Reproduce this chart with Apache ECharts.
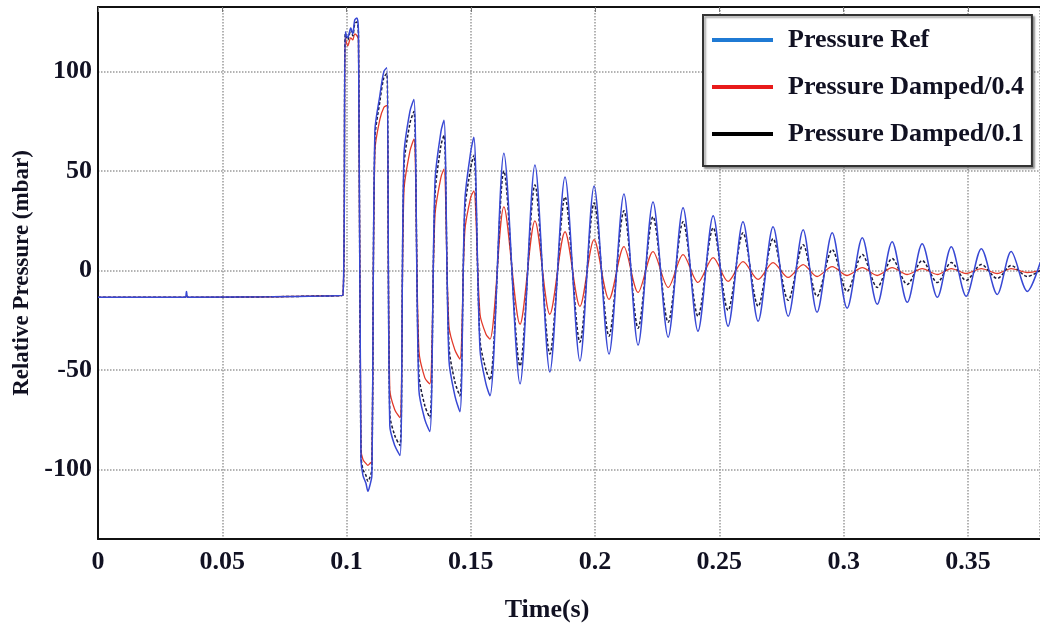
<!DOCTYPE html>
<html>
<head>
<meta charset="utf-8">
<script src="https://cdn.jsdelivr.net/npm/echarts@6/dist/echarts.min.js"></script>
<style>
html,body{margin:0;padding:0;background:#fff;}
#chart{width:1040px;height:628px;}
</style>
</head>
<body>
<div id="chart"></div>
<script>
// ---- data ----
const seriesNames = ['Pressure Ref', 'Pressure Damped/0.4', 'Pressure Damped/0.1'];

// time (s) of each key point
const time = [
  0, 0.0350, 0.0356, 0.0362, 0.0700, 0.0900, 0.0985,
  0.0995, 0.1005, 0.1017, 0.1025, 0.1033, 0.1042, 0.1048,
  0.1058, 0.1066, 0.1078, 0.1086, 0.1094, 0.1102,
  0.1114, 0.1134, 0.1150, 0.1162,
  0.1174, 0.1194, 0.1215,
  0.1231, 0.1255, 0.1271,
  0.1291, 0.1315, 0.1335,
  0.1356, 0.1380, 0.1392,
  0.1412, 0.1436, 0.1456,
  0.1476, 0.1500, 0.1512,
  0.1537, 0.1561, 0.1577,
  0.1633, 0.1698, 0.1758, 0.1818, 0.1879, 0.1939, 0.1996, 0.2056,
  0.2116, 0.2173, 0.2233, 0.2294, 0.2354, 0.2414, 0.2475, 0.2535,
  0.2595, 0.2656, 0.2716, 0.2777, 0.2837, 0.2893, 0.2954, 0.3014,
  0.3075, 0.3135, 0.3195, 0.3256, 0.3316, 0.3377, 0.3433, 0.3493,
  0.3554, 0.3618, 0.3674, 0.3739, 0.3791
];

// Pressure Ref (mbar)
const pressureRef = [
  -13.5, -13.5, -10.5, -13.5, -13.2, -12.8, -12.5,
  120, 117, 122, 119, 126, 127, 120,
  -95, -103, -107, -111, -108, -103,
  70, 88, 100, 102,
  -78, -88, -93,
  58, 80, 86,
  -60, -75, -81,
  45, 70, 75.5,
  -45, -63, -71,
  35, 60, 67,
  -40, -57, -63,
  59, -57, 53, -51, 47, -45.5, 42.5, -42,
  38.5, -37.5, 34.5, -33.5, 31.5, -30.5, 27.5, -28,
  24.5, -25.5, 22, -23, 20.5, -21, 19, -19,
  16.5, -17, 14.5, -16, 13.5, -13.5, 12, -13,
  11, -12, 9.5, -10.5, 4
];

// Pressure Damped/0.4 (mbar)
const pressureDamped04 = [
  -13.5, -13.5, -13, -13.5, -13.2, -12.8, -12.5,
  117, 113, 117, 116, 119, 118, 116,
  -90, -95, -97, -98, -97, -96,
  60, 76, 82, 83,
  -60, -70, -74,
  40, 60, 66,
  -40, -54, -57,
  28, 47, 51,
  -28, -40, -44.5,
  20, 37, 40,
  -22, -32, -34.5,
  32, -27, 25, -22, 19.5, -18, 15.5, -14.5,
  12, -11, 9.5, -8.5, 8, -6, 6.5, -5.5,
  4.5, -4.5, 4, -3.5, 3, -3, 2, -2.5,
  1.5, -2.5, 1.5, -2, 1, -2, 1, -1.5,
  1, -1.5, 1, -1, 0
];

// Pressure Damped/0.1 (mbar)
const pressureDamped01 = [
  -13.5, -13.5, -12.5, -13.5, -13.2, -12.8, -12.5,
  119, 116, 121, 118, 124, 125, 118,
  -93, -100, -103, -106, -104, -100,
  66, 85, 97, 99,
  -72, -83, -88,
  52, 74, 80,
  -52, -68, -74,
  38, 63, 68,
  -38, -56, -63,
  30, 52, 58,
  -35, -50, -55,
  50, -48, 43, -42, 37, -36, 34, -33,
  30, -29, 27, -26, 24.5, -23, 21.5, -20,
  19, -18, 16, -15, 13, -13, 10.5, -10.5,
  8, -8.5, 6, -7, 5, -6, 4, -5,
  3, -4, 2.5, -3, 0
];

// ---- chart ----
const FONT = 'Liberation Serif';
const pair = arr => time.map((t, i) => [t, arr[i]]);

const chart = echarts.init(document.getElementById('chart'), null, {renderer: 'canvas'});
chart.setOption({
  animation: false,
  backgroundColor: '#ffffff',
  grid: {left: 98, right: 0, top: 7, bottom: 88, containLabel: false},
  legend: {
    orient: 'vertical',
    left: 703, top: 15,
    padding: [12, 8, 19, 9],
    itemGap: 21,
    itemWidth: 61, itemHeight: 4,
    icon: 'rect',
    backgroundColor: '#ffffff',
    borderColor: '#333333', borderWidth: 2,
    shadowBlur: 2, shadowOffsetX: 2, shadowOffsetY: 2, shadowColor: 'rgba(0,0,0,0.35)',
    textStyle: {fontFamily: FONT, fontWeight: 'bold', fontSize: 26, lineHeight: 26, color: '#111122', padding: [0, 0, 0, 10]},
    data: [
      {name: seriesNames[0], itemStyle: {color: '#1f7ad4'}},
      {name: seriesNames[1], itemStyle: {color: '#e81a1a'}},
      {name: seriesNames[2], itemStyle: {color: '#000000'}}
    ]
  },
  xAxis: [{
    type: 'value', min: 0, max: 0.379, interval: 0.05,
    name: 'Time(s)', nameLocation: 'middle', nameGap: 58,
    nameTextStyle: {fontFamily: FONT, fontWeight: 'bold', fontSize: 26, color: '#111122', padding: [0, 44, 0, 0]},
    axisLine: {show: true, onZero: false, lineStyle: {color: '#111111', width: 2}},
    axisTick: {show: false},
    axisLabel: {fontFamily: FONT, fontWeight: 'bold', fontSize: 26, color: '#111122', margin: 10, showMaxLabel: false},
    splitLine: {show: true, lineStyle: {color: '#9a9a9a', width: 1.5, type: 'dotted'}}
  }, {
    type: 'value', position: 'top', min: 0, max: 0.379, interval: 0.05,
    axisLine: {show: true, onZero: false, lineStyle: {color: '#111111', width: 2}},
    axisTick: {show: true, inside: true, length: 5, lineStyle: {color: '#777777'}},
    axisLabel: {show: false},
    splitLine: {show: false}
  }],
  yAxis: {
    type: 'value', min: -135, max: 132.5,
    name: 'Relative Pressure (mbar)', nameLocation: 'middle', nameGap: 63,
    nameTextStyle: {fontFamily: FONT, fontWeight: 'bold', fontSize: 23, color: '#111122'},
    axisLine: {show: true, onZero: false, lineStyle: {color: '#111111', width: 2}},
    axisTick: {show: false},
    axisLabel: {fontFamily: FONT, fontWeight: 'bold', fontSize: 26, color: '#111122', margin: 6, showMinLabel: false, showMaxLabel: false},
    splitLine: {show: true, lineStyle: {color: '#9a9a9a', width: 1.5, type: 'dotted'}}
  },
  series: [
    {
      name: seriesNames[0], type: 'line', xAxisIndex: 0, z: 4,
      data: pair(pressureRef), showSymbol: false, symbol: 'none', smooth: 0.3,
      lineStyle: {color: '#3848d4', width: 1.5},
      itemStyle: {color: '#1f7ad4'}
    },
    {
      name: seriesNames[1], type: 'line', xAxisIndex: 0, z: 2,
      data: pair(pressureDamped04), showSymbol: false, symbol: 'none', smooth: 0.3,
      lineStyle: {color: '#e23a2a', width: 1.3},
      itemStyle: {color: '#e81a1a'}
    },
    {
      name: seriesNames[2], type: 'line', xAxisIndex: 0, z: 3,
      data: pair(pressureDamped01), showSymbol: false, symbol: 'none', smooth: 0.3,
      lineStyle: {color: '#1a1a3a', width: 1.5, type: [3, 2]},
      itemStyle: {color: '#000000'}
    }
  ]
});
</script>
</body>
</html>
